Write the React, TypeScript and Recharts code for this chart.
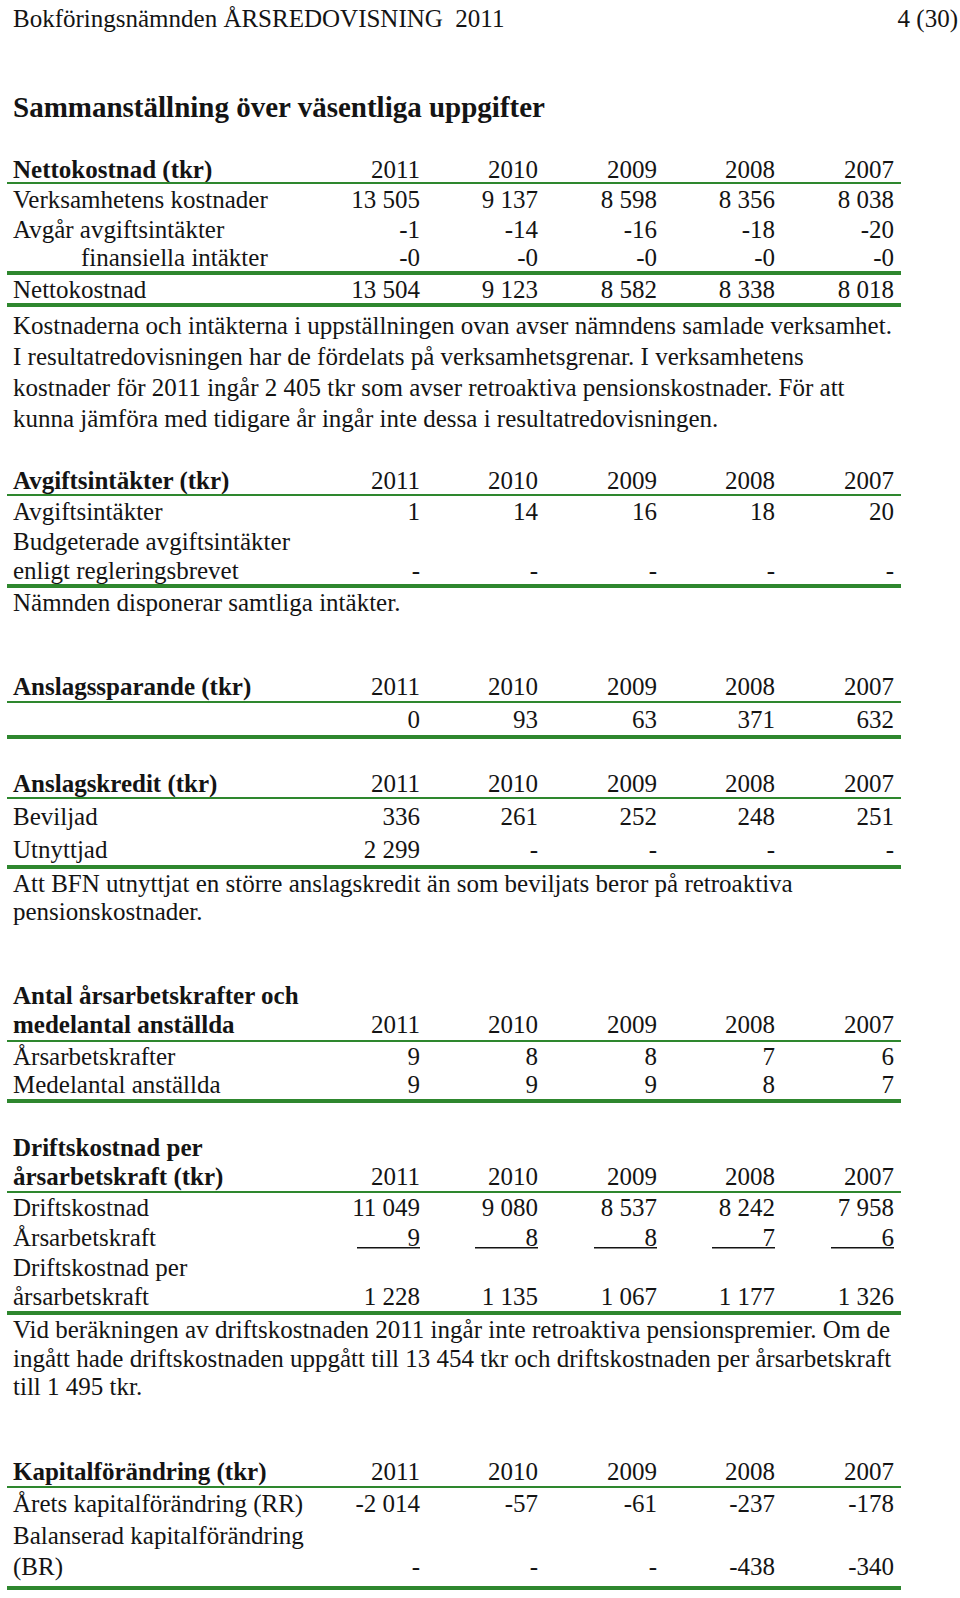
import React from 'react';
import { Surface, Text, Rectangle } from 'recharts';

// Data
const years = ['2011', '2010', '2009', '2008', '2007'];

const nettoLabels = ['Verksamhetens kostnader', 'Avgår avgiftsintäkter', 'finansiella intäkter'];
const nettoValues = [
  [13505, 9137, 8598, 8356, 8038],
  [-1, -14, -16, -18, -20],
  [-0, -0, -0, -0, -0],
];
const nettoTotal = [13504, 9123, 8582, 8338, 8018];
const nettoNote = [
  'Kostnaderna och intäkterna i uppställningen ovan avser nämndens samlade verksamhet.',
  'I resultatredovisningen har de fördelats på verksamhetsgrenar. I verksamhetens',
  'kostnader för 2011 ingår 2 405 tkr som avser retroaktiva pensionskostnader. För att',
  'kunna jämföra med tidigare år ingår inte dessa i resultatredovisningen.',
];

const avgiftValues = [1, 14, 16, 18, 20];
const budgetValues = [null, null, null, null, null];

const sparandeValues = [0, 93, 63, 371, 632];

const beviljadValues = [336, 261, 252, 248, 251];
const utnyttjadValues = [2299, null, null, null, null];
const kreditNote = [
  'Att BFN utnyttjat en större anslagskredit än som beviljats beror på retroaktiva',
  'pensionskostnader.',
];

const arsarbetskrafterValues = [9, 8, 8, 7, 6];
const medelantalValues = [9, 9, 9, 8, 7];

const driftskostnadValues = [11049, 9080, 8537, 8242, 7958];
const arsarbetskraftValues = [9, 8, 8, 7, 6];
const perArsValues = [1228, 1135, 1067, 1177, 1326];
const driftNote = [
  'Vid beräkningen av driftskostnaden 2011 ingår inte retroaktiva pensionspremier. Om de',
  'ingått hade driftskostnaden uppgått till 13 454 tkr och driftskostnaden per årsarbetskraft',
  'till 1 495 tkr.',
];

const kapitalRR = [-2014, -57, -61, -237, -178];
const kapitalBR = [null, null, null, -438, -340];

// Layout / style
const FONT = '"Liberation Serif", "Times New Roman", serif';
const INK = '#141414';
const GREEN = '#2e872e';
const LEFT = 13;
const COL_RIGHT = [420, 538, 657, 775, 894];

const fmt = (v: number | null): string => {
  if (v === null) return '-';
  const neg = v < 0 || Object.is(v, -0);
  const s = Math.abs(v).toString().replace(/\B(?=(\d{3})+(?!\d))/g, '\u00A0');
  return (neg ? '-' : '') + s;
};

const Txt = ({ x, y, children, bold = false, anchor = 'start', size = 25 }: any) => (
  <Text
    x={x}
    y={y}
    textAnchor={anchor}
    verticalAnchor="end"
    fontFamily={FONT}
    fontSize={size}
    fontWeight={bold ? 'bold' : 'normal'}
    fill={INK}
  >
    {children}
  </Text>
);

const NumRow = ({ y, values, underline = false }: any) => (
  <>
    {values.map((v: any, i: number) => (
      <React.Fragment key={i}>
        <Txt x={COL_RIGHT[i]} y={y} anchor="end">
          {typeof v === 'string' ? v : fmt(v)}
        </Txt>
        {underline && <Rectangle x={COL_RIGHT[i] - 63} y={y + 1} width={63} height={1.5} fill={INK} />}
      </React.Fragment>
    ))}
  </>
);

const Rule = ({ y, thick = false }: any) => (
  <Rectangle x={7} y={thick ? y - 2 : y - 1} width={894} height={thick ? 4 : 2} fill={GREEN} />
);

const Lines = ({ y, lines, step }: any) => (
  <>
    {lines.map((l: string, i: number) => (
      <Txt key={i} x={LEFT} y={y + i * step}>{l}</Txt>
    ))}
  </>
);

const App: React.FC = () => {
  return (
    <div style={{ position: 'absolute', left: 0, top: 0, width: 960, height: 1598, background: '#fff' }}>
      <Surface width={960} height={1598}>
        {/* Page header */}
        <Txt x={LEFT} y={27}>{'Bokföringsnämnden ÅRSREDOVISNING\u00A0 2011'}</Txt>
        <Txt x={958} y={27} anchor="end">4 (30)</Txt>
        <Txt x={LEFT} y={117} bold size={29}>Sammanställning över väsentliga uppgifter</Txt>

        {/* Nettokostnad */}
        <Txt x={LEFT} y={178} bold>Nettokostnad (tkr)</Txt>
        <NumRow y={178} values={years} />
        <Rule y={183} />
        <Txt x={LEFT} y={208}>{nettoLabels[0]}</Txt>
        <NumRow y={208} values={nettoValues[0]} />
        <Txt x={LEFT} y={238}>{nettoLabels[1]}</Txt>
        <NumRow y={238} values={nettoValues[1]} />
        <Txt x={81} y={266}>{nettoLabels[2]}</Txt>
        <NumRow y={266} values={nettoValues[2]} />
        <Rule y={273} thick />
        <Txt x={LEFT} y={298}>Nettokostnad</Txt>
        <NumRow y={298} values={nettoTotal} />
        <Rule y={305} thick />
        <Lines y={334} lines={nettoNote} step={31} />

        {/* Avgiftsintäkter */}
        <Txt x={LEFT} y={489} bold>Avgiftsintäkter (tkr)</Txt>
        <NumRow y={489} values={years} />
        <Rule y={495} />
        <Txt x={LEFT} y={520}>Avgiftsintäkter</Txt>
        <NumRow y={520} values={avgiftValues} />
        <Txt x={LEFT} y={550}>Budgeterade avgiftsintäkter</Txt>
        <Txt x={LEFT} y={579}>enligt regleringsbrevet</Txt>
        <NumRow y={579} values={budgetValues} />
        <Rule y={586} thick />
        <Txt x={LEFT} y={611}>Nämnden disponerar samtliga intäkter.</Txt>

        {/* Anslagssparande */}
        <Txt x={LEFT} y={695} bold>Anslagssparande (tkr)</Txt>
        <NumRow y={695} values={years} />
        <Rule y={702} />
        <NumRow y={728} values={sparandeValues} />
        <Rule y={737} thick />

        {/* Anslagskredit */}
        <Txt x={LEFT} y={792} bold>Anslagskredit (tkr)</Txt>
        <NumRow y={792} values={years} />
        <Rule y={798} />
        <Txt x={LEFT} y={825}>Beviljad</Txt>
        <NumRow y={825} values={beviljadValues} />
        <Txt x={LEFT} y={858}>Utnyttjad</Txt>
        <NumRow y={858} values={utnyttjadValues} />
        <Rule y={867} thick />
        <Lines y={892} lines={kreditNote} step={28} />

        {/* Antal årsarbetskrafter */}
        <Txt x={LEFT} y={1004} bold>Antal årsarbetskrafter och</Txt>
        <Txt x={LEFT} y={1033} bold>medelantal anställda</Txt>
        <NumRow y={1033} values={years} />
        <Rule y={1041} />
        <Txt x={LEFT} y={1065}>Årsarbetskrafter</Txt>
        <NumRow y={1065} values={arsarbetskrafterValues} />
        <Txt x={LEFT} y={1093}>Medelantal anställda</Txt>
        <NumRow y={1093} values={medelantalValues} />
        <Rule y={1101} thick />

        {/* Driftskostnad per årsarbetskraft */}
        <Txt x={LEFT} y={1156} bold>Driftskostnad per</Txt>
        <Txt x={LEFT} y={1185} bold>årsarbetskraft (tkr)</Txt>
        <NumRow y={1185} values={years} />
        <Rule y={1192} />
        <Txt x={LEFT} y={1216}>Driftskostnad</Txt>
        <NumRow y={1216} values={driftskostnadValues} />
        <Txt x={LEFT} y={1246}>Årsarbetskraft</Txt>
        <NumRow y={1246} values={arsarbetskraftValues} underline />
        <Txt x={LEFT} y={1276}>Driftskostnad per</Txt>
        <Txt x={LEFT} y={1305}>årsarbetskraft</Txt>
        <NumRow y={1305} values={perArsValues} />
        <Rule y={1313} thick />
        <Lines y={1338} lines={driftNote} step={28.5} />

        {/* Kapitalförändring */}
        <Txt x={LEFT} y={1480} bold>Kapitalförändring (tkr)</Txt>
        <NumRow y={1480} values={years} />
        <Rule y={1487} />
        <Txt x={LEFT} y={1512}>Årets kapitalförändring (RR)</Txt>
        <NumRow y={1512} values={kapitalRR} />
        <Txt x={LEFT} y={1544}>Balanserad kapitalförändring</Txt>
        <Txt x={LEFT} y={1575}>(BR)</Txt>
        <NumRow y={1575} values={kapitalBR} />
        <Rule y={1588} thick />
      </Surface>
    </div>
  );
};

export default App;
